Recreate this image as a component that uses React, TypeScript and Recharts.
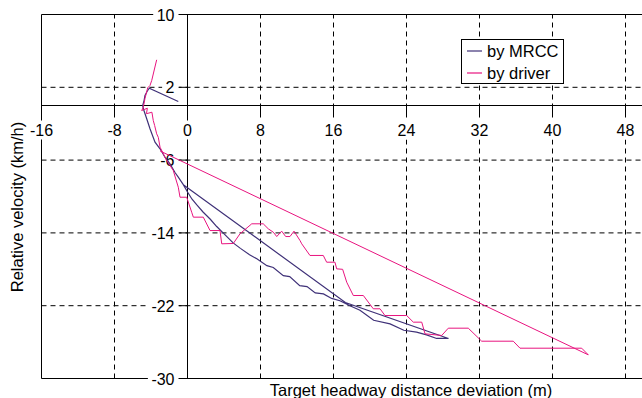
import React from 'react';
import {
  LineChart,
  Line,
  XAxis,
  YAxis,
  ReferenceLine,
  ReferenceDot,
  Legend,
} from 'recharts';

const xTicks = [-16, -8, 0, 8, 16, 24, 32, 40, 48];
const xGrid = [-8, 8, 16, 24, 32, 40, 48];
const yTicks = [10, 2, -6, -14, -22, -30];
const yGrid = [2, -6, -14, -22];

// by MRCC: staircase down, then the return segment
const mrccX = [
  -1.01, -4.19, -4.4, -4.66, -4.75, -4.91, -4.84, -4.47, -4.11, -3.56, -3.01, -2.47, -1.92, -1.37,
  -1.01, -0.46, 0.0, 0.5, 1.0, 1.7, 2.5, 3.2, 3.9, 5.0, 5.8, 6.8, 7.6, 8.7, 9.4, 10.5, 11.2, 12.3,
  13.1, 14.0, 14.9, 15.8, 16.7, 17.8, 18.9, 20.4, 22.2, 23.7, 25.1, 26.2, 27.3, 28.6, 17.3, -0.46,
];
const mrccY = [
  0.44, 1.9, 1.6, 1.1, 0.6, 0, -0.36, -1.46, -2.56, -4.03, -4.76, -5.68, -6.41, -7.36,
  -7.88, -8.7, -9.5, -10.3, -10.9, -11.7, -12.5, -13.3, -14.0, -15.1, -15.7, -16.4, -16.85, -17.6, -17.8, -18.7, -18.8, -19.8,
  -19.9, -20.6, -20.7, -21.2, -21.45, -22.0, -22.5, -23.6, -24.0, -24.7, -24.9, -25.2, -25.6, -25.6, -21.65, -8.7,
];

// by driver
const driverX = [
  -3.38, -3.92, -4.11, -4.36, -4.66, -4.84, -5.02, -4.4, -4.5, -3.9, -3.75, -3.6, -3.38, -3.2, -3.01,
  -2.65, -2.39, -1.56, -1.01, -0.82, -0.09, 0.46, 0.64, 1.73, 2.47, 3.56, 3.75, 5.02, 5.75, 7.04,
  8.3, 8.85, 9.4, 9.78, 10.32, 10.76, 11.23, 11.67, 12.33, 12.52, 13.42, 14.88, 15.25, 16.16, 16.35,
  17.0, 17.45, 18.17, 19.27, 20.36, 21.1, 21.64, 24.02, 24.75, 25.67, 26.03, 27.86, 28.58, 30.77,
  32.24, 35.7, 36.44, 43.2, 43.92, -3.0,
];
const driverY = [
  5.02, 2.75, 2.2, 1.95, 0.77, -0.19, -0.55, -0.3, -0.9, -0.74, -1.65, -2.2, -3.11, -3.5, -4.58,
  -5.31, -5.86, -7.14, -8.98, -10.08, -10.08, -11.73, -12.27, -12.27, -13.74, -13.74, -15.2, -15.16, -14.1, -13.0,
  -13.0, -13.55, -13.92, -14.4, -13.81, -14.4, -14.4, -13.81, -14.84, -15.2, -16.48, -16.48, -17.22, -17.22, -17.95,
  -18.0, -19.42, -20.88, -20.88, -22.34, -22.34, -23.08, -23.08, -23.81, -23.81, -25.09, -25.27, -24.47, -24.47,
  -25.9, -25.9, -26.67, -26.67, -27.4, -5.0,
];

const mrcc = mrccX.map((x, i) => ({ x, y: mrccY[i] }));
const driver = driverX.map((x, i) => ({ x, y: driverY[i] }));

const FONT = '"Liberation Sans", Arial, sans-serif';
const PURPLE = '#3f3178';
const PINK = '#e8147f';

function textWidth(s: string, fs: number) {
  let w = 0;
  for (const ch of s) w += ch === '-' ? 0.333 : 0.556;
  return w * fs;
}

function XTickLabel({ cx, cy, value }: any) {
  const s = String(value);
  const w = textWidth(s, 16);
  return (
    <g>
      <line x1={cx} y1={cy} x2={cx} y2={cy + 8} stroke="#000" />
      <rect x={cx - w / 2 - 3} y={cy + 15} width={w + 6} height={19} fill="#fff" />
      <text x={cx} y={cy + 30} textAnchor="middle" fontSize={16} fontFamily={FONT} fill="#000">
        {s}
      </text>
    </g>
  );
}

function YTickLabel({ cx, cy, value }: any) {
  const s = String(value);
  const w = textWidth(s, 16);
  return (
    <g>
      <rect x={cx - 13 - w - 3.5} y={cy - 9} width={w + 8} height={18} fill="#fff" />
      <line x1={cx - 9} y1={cy} x2={cx} y2={cy} stroke="#000" />
      <text x={cx - 13} y={cy + 6} textAnchor="end" fontSize={16} fontFamily={FONT} fill="#000">
        {s}
      </text>
    </g>
  );
}

function LegendBox({ payload }: any) {
  return (
    <div
      style={{
        border: '1px solid #000',
        background: '#fff',
        width: 101,
        height: 43,
        fontFamily: FONT,
        fontSize: 16.5,
        color: '#000',
        boxSizing: 'content-box',
      }}
    >
      {(payload || []).map((p: any) => (
        <div key={p.value} style={{ display: 'flex', alignItems: 'center', height: 22 }}>
          <span style={{ display: 'inline-block', marginLeft: 5, width: 15, borderTop: `2px solid ${p.color}`, opacity: 0.6 }} />
          <span style={{ marginLeft: 5, lineHeight: '22px' }}>{p.value}</span>
        </div>
      ))}
    </div>
  );
}

export default function App() {
  return (
    <div
      style={{
        position: 'absolute',
        left: 0,
        top: 0,
        width: 642,
        height: 398,
        overflow: 'hidden',
        background: '#fff',
      }}
    >
      <LineChart width={720} height={398} margin={{ top: 14.5, right: 21.5, bottom: 19.5, left: 41.5 }}>
        <XAxis
          type="number"
          dataKey="x"
          domain={[-16, 56]}
          ticks={xTicks}
          tick={false}
          tickLine={false}
          axisLine={false}
          height={0}
          allowDataOverflow
        />
        <YAxis
          type="number"
          dataKey="y"
          domain={[-30, 10]}
          ticks={yTicks}
          tick={false}
          tickLine={false}
          axisLine={false}
          width={0}
          allowDataOverflow
        />
        {xGrid.map((v) => (
          <ReferenceLine key={'gx' + v} x={v} stroke="#000" strokeDasharray="5 4" zIndex={300} />
        ))}
        {yGrid.map((v) => (
          <ReferenceLine key={'gy' + v} y={v} stroke="#000" strokeDasharray="5 4" zIndex={300} />
        ))}
        <ReferenceLine y={10} stroke="#000" zIndex={310} />
        <ReferenceLine y={-30} stroke="#000" zIndex={310} />
        <ReferenceLine x={-16} stroke="#000" zIndex={310} />
        <ReferenceLine x={56} stroke="#000" zIndex={310} />
        <ReferenceLine x={0} stroke="#000" zIndex={310} />
        <ReferenceLine y={0} stroke="#000" zIndex={310} />
        {xTicks.map((v) => (
          <ReferenceDot
            key={'x' + v}
            x={v}
            y={0}
            r={0}
            ifOverflow="visible"
            zIndex={350}
            shape={(p: any) => <XTickLabel cx={p.cx} cy={p.cy} value={v} />}
          />
        ))}
        {yTicks.map((v) => (
          <ReferenceDot
            key={'y' + v}
            x={0}
            y={v}
            r={0}
            ifOverflow="visible"
            zIndex={350}
            shape={(p: any) => <YTickLabel cx={p.cx} cy={p.cy} value={v} />}
          />
        ))}
        <Line
          data={mrcc}
          dataKey="y"
          name="by MRCC"
          type="linear"
          stroke={PURPLE}
          strokeWidth={1.2}
          dot={false}
          activeDot={false}
          zIndex={600}
          isAnimationActive={false}
        />
        <Line
          data={driver}
          dataKey="y"
          name="by driver"
          type="linear"
          stroke={PINK}
          strokeWidth={1}
          dot={false}
          activeDot={false}
          zIndex={610}
          isAnimationActive={false}
        />
        <Legend
          layout="vertical"
          align="center"
          verticalAlign="middle"
          content={<LegendBox />}
          wrapperStyle={{ position: 'absolute', left: 461, top: 39, width: 'auto', height: 'auto' }}
        />
      </LineChart>
      <svg
        width={642}
        height={398}
        style={{ position: 'absolute', left: 0, top: 0, pointerEvents: 'none' }}
      >
        <text x={411} y={396} textAnchor="middle" fontSize={16.5} fontFamily={FONT} fill="#000">
          Target headway distance deviation (m)
        </text>
        <text
          transform="translate(23,207) rotate(-90)"
          textAnchor="middle"
          fontSize={16.5}
          fontFamily={FONT}
          fill="#000"
        >
          Relative velocity (km/h)
        </text>
      </svg>
    </div>
  );
}
